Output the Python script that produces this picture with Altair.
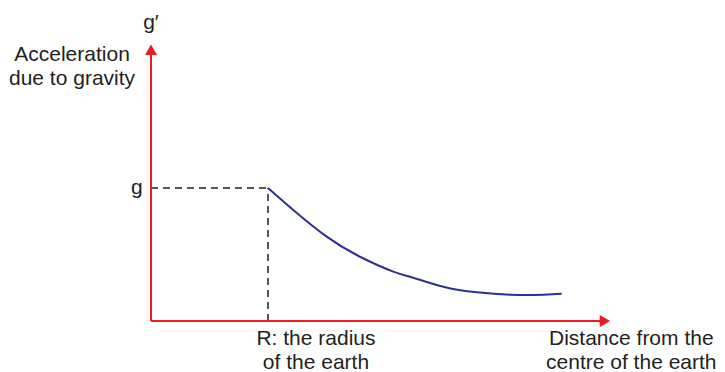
import altair as alt
import pandas as pd

# Curve: distance from centre (in units of R) vs g'/g
distance = [1.0, 1.216, 1.502, 1.786, 2.071, 2.214, 2.498, 2.784, 3.068, 3.353, 3.51]
g_ratio = [1.0, 0.835, 0.634, 0.483, 0.371, 0.333, 0.258, 0.216, 0.198, 0.198, 0.205]

# Axes (arrows) in data units
axis_x0 = [0.0, 0.0]
axis_x1 = [3.84, 0.0]
axis_y0 = [0.0, 0.0]
axis_y1 = [0.0, 2.015]
arrow_x = [3.88, 0.0]
arrow_y = [0.0, 2.04]
arrow_shape = ["triangle-right", "triangle-up"]

# Dashed guides to (R, g)
guide_x0 = [0.0, 1.0]
guide_x1 = [1.0, 1.0]
guide_y0 = [1.0, 0.0]
guide_y1 = [1.0, 1.0]

# Labels
label_text = ["g′", "Acceleration\ndue to gravity", "R: the radius\nof the earth",
              "Distance from the\ncentre of the earth"]
label_x = [0.0, -0.675, 1.41, 4.105]
label_y = [2.24, 2.0, -0.135, -0.135]
g_label_x = [-0.07]
g_label_y = [1.0]

X_DOM = [-143 / 117, -143 / 117 + 709 / 117]
Y_DOM = [313 / 133 - 364 / 133, 313 / 133]

xs = alt.Scale(domain=X_DOM, nice=False, zero=False)
ys = alt.Scale(domain=Y_DOM, nice=False, zero=False)

RED = "#ed1c24"
NAVY = "#2e3192"
INK = "#231f20"
FONT = "Liberation Sans"

curve_df = pd.DataFrame({"d": distance, "g": g_ratio})
axis_df = pd.DataFrame({"x": axis_x0, "x2": axis_x1, "y": axis_y0, "y2": axis_y1})
arrow_df = pd.DataFrame({"x": arrow_x, "y": arrow_y, "shape": arrow_shape})
guide_df = pd.DataFrame({"x": guide_x0, "x2": guide_x1, "y": guide_y0, "y2": guide_y1})
label_df = pd.DataFrame({"t": label_text, "x": label_x, "y": label_y})
glab_df = pd.DataFrame({"t": ["g"], "x": g_label_x, "y": g_label_y})

guides = alt.Chart(guide_df).mark_rule(color=INK, strokeWidth=1.5, strokeDash=[7, 5]).encode(
    x=alt.X("x:Q", scale=xs, axis=None), x2="x2:Q",
    y=alt.Y("y:Q", scale=ys, axis=None), y2="y2:Q")

axes = alt.Chart(axis_df).mark_rule(color=RED, strokeWidth=2).encode(
    x=alt.X("x:Q", scale=xs, axis=None), x2="x2:Q",
    y=alt.Y("y:Q", scale=ys, axis=None), y2="y2:Q")

arrows = alt.Chart(arrow_df).mark_point(filled=True, color=RED, opacity=1, size=144).encode(
    x=alt.X("x:Q", scale=xs, axis=None),
    y=alt.Y("y:Q", scale=ys, axis=None),
    shape=alt.Shape("shape:N", scale=None, legend=None))

curve = alt.Chart(curve_df).mark_line(color=NAVY, strokeWidth=2, interpolate="natural").encode(
    x=alt.X("d:Q", scale=xs, axis=None),
    y=alt.Y("g:Q", scale=ys, axis=None))

labels = alt.Chart(label_df).mark_text(font=FONT, fontSize=21, color=INK, align="center",
                                       baseline="middle", lineBreak="\n", lineHeight=24).encode(
    x=alt.X("x:Q", scale=xs, axis=None),
    y=alt.Y("y:Q", scale=ys, axis=None),
    text="t:N")

glab = alt.Chart(glab_df).mark_text(font=FONT, fontSize=21, color=INK, align="right",
                                    baseline="middle").encode(
    x=alt.X("x:Q", scale=xs, axis=None),
    y=alt.Y("y:Q", scale=ys, axis=None),
    text="t:N")

chart = alt.layer(guides, curve, axes, arrows, labels, glab).properties(
    width=709, height=364, padding=0, autosize="none"
).configure_view(stroke=None)

chart.save("out.html", embed_options={"renderer": "svg", "actions": False})
